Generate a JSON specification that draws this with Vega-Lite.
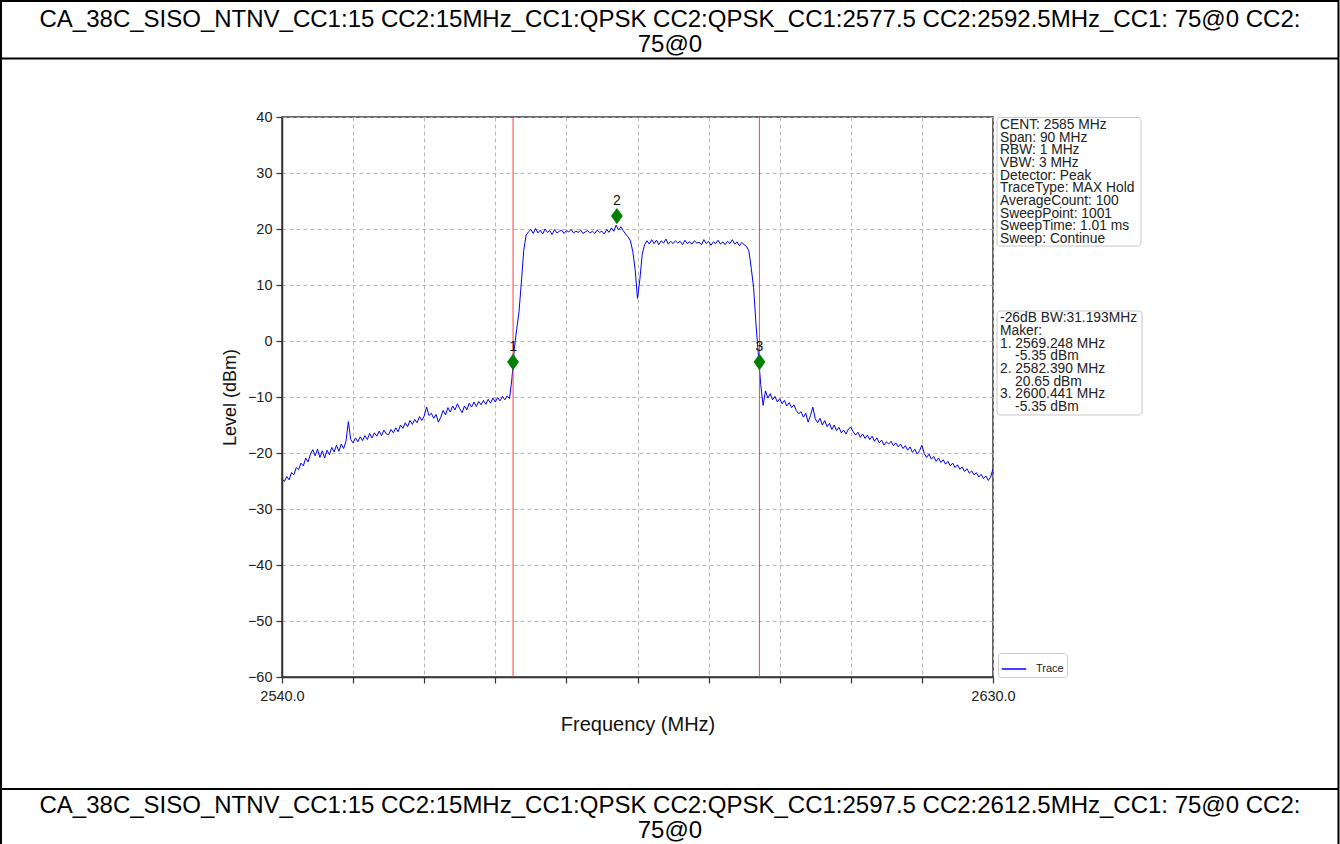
{
  "$schema": "https://vega.github.io/schema/vega-lite/v6.json",
  "width": 711,
  "height": 560,
  "autosize": {"type": "none"},
  "padding": {"left": 282, "top": 117, "right": 347, "bottom": 167},
  "background": "white",
  "config": {
    "font": "Liberation Sans",
    "view": {"stroke": "#333333", "strokeWidth": 1.5},
    "axis": {
      "domainColor": "#333333", "domainWidth": 1.5, "tickColor": "#333333", "tickWidth": 1.2, "tickSize": 6,
      "labelFont": "Liberation Sans", "labelFontSize": 14.5, "labelColor": "#222222",
      "titleFont": "Liberation Sans", "titleFontWeight": "normal", "titleColor": "#111111",
      "gridColor": "#b0b0b0", "gridDash": [4, 3], "gridWidth": 0.9
    }
  },
  "datasets": {
    "trace": [
      {"f":2540.0,"v":-24.6},{"f":2540.3,"v":-25.1},{"f":2540.6,"v":-24.2},{"f":2540.9,"v":-24.8},{"f":2541.2,"v":-23.5},{"f":2541.5,"v":-23.9},{"f":2541.8,"v":-22.6},{"f":2542.1,"v":-23.0},{"f":2542.4,"v":-21.8},{"f":2542.7,"v":-22.3},
      {"f":2543.0,"v":-20.9},{"f":2543.3,"v":-21.6},{"f":2543.6,"v":-20.2},{"f":2543.9,"v":-19.4},{"f":2544.2,"v":-20.5},{"f":2544.5,"v":-19.3},{"f":2544.8,"v":-20.8},{"f":2545.1,"v":-19.6},{"f":2545.4,"v":-20.9},{"f":2545.7,"v":-19.5},
      {"f":2546.0,"v":-20.3},{"f":2546.3,"v":-19.0},{"f":2546.6,"v":-19.8},{"f":2546.9,"v":-18.6},{"f":2547.2,"v":-19.7},{"f":2547.5,"v":-18.4},{"f":2547.8,"v":-19.2},{"f":2548.1,"v":-17.9},{"f":2548.4,"v":-14.4},{"f":2548.7,"v":-17.6},
      {"f":2549.0,"v":-18.2},{"f":2549.3,"v":-17.3},{"f":2549.6,"v":-18.0},{"f":2549.9,"v":-17.1},{"f":2550.2,"v":-17.8},{"f":2550.5,"v":-16.9},{"f":2550.8,"v":-17.6},{"f":2551.1,"v":-16.5},{"f":2551.4,"v":-17.3},{"f":2551.7,"v":-16.4},
      {"f":2552.0,"v":-17.0},{"f":2552.3,"v":-16.1},{"f":2552.6,"v":-16.9},{"f":2552.9,"v":-15.9},{"f":2553.2,"v":-16.6},{"f":2553.5,"v":-16.7},{"f":2553.8,"v":-15.8},{"f":2554.1,"v":-16.4},{"f":2554.4,"v":-15.5},{"f":2554.7,"v":-16.2},
      {"f":2555.0,"v":-15.0},{"f":2555.3,"v":-15.6},{"f":2555.6,"v":-14.6},{"f":2555.9,"v":-15.3},{"f":2556.2,"v":-14.2},{"f":2556.5,"v":-14.9},{"f":2556.8,"v":-14.0},{"f":2557.1,"v":-14.6},{"f":2557.4,"v":-13.5},{"f":2557.7,"v":-14.2},
      {"f":2558.0,"v":-13.4},{"f":2558.3,"v":-11.8},{"f":2558.6,"v":-13.3},{"f":2558.9,"v":-12.9},{"f":2559.2,"v":-13.8},{"f":2559.5,"v":-13.1},{"f":2559.8,"v":-14.5},{"f":2560.1,"v":-13.6},{"f":2560.4,"v":-12.4},{"f":2560.7,"v":-13.2},
      {"f":2561.0,"v":-11.9},{"f":2561.3,"v":-12.7},{"f":2561.6,"v":-11.6},{"f":2561.9,"v":-12.3},{"f":2562.2,"v":-11.2},{"f":2562.5,"v":-12.1},{"f":2562.8,"v":-12.8},{"f":2563.1,"v":-11.6},{"f":2563.4,"v":-12.3},{"f":2563.7,"v":-11.1},
      {"f":2564.0,"v":-11.8},{"f":2564.3,"v":-10.9},{"f":2564.6,"v":-11.7},{"f":2564.9,"v":-10.8},{"f":2565.2,"v":-11.4},{"f":2565.5,"v":-10.6},{"f":2565.8,"v":-11.3},{"f":2566.1,"v":-10.4},{"f":2566.4,"v":-11.1},{"f":2566.7,"v":-10.2},
      {"f":2567.0,"v":-10.9},{"f":2567.3,"v":-10.1},{"f":2567.6,"v":-10.7},{"f":2567.9,"v":-9.9},{"f":2568.2,"v":-10.5},{"f":2568.5,"v":-9.8},{"f":2568.8,"v":-10.3},{"f":2569.1,"v":-6.8},{"f":2569.4,"v":-1.5},{"f":2569.7,"v":2.0},
      {"f":2570.0,"v":5.2},{"f":2570.3,"v":10.5},{"f":2570.6,"v":16.2},{"f":2570.9,"v":18.9},{"f":2571.2,"v":19.5},{"f":2571.5,"v":19.9},{"f":2571.8,"v":19.2},{"f":2572.1,"v":20.1},{"f":2572.4,"v":19.3},{"f":2572.7,"v":19.8},
      {"f":2573.0,"v":19.1},{"f":2573.3,"v":20.0},{"f":2573.6,"v":19.4},{"f":2573.9,"v":19.7},{"f":2574.2,"v":19.0},{"f":2574.5,"v":19.9},{"f":2574.8,"v":19.3},{"f":2575.1,"v":19.6},{"f":2575.4,"v":19.8},{"f":2575.7,"v":19.2},
      {"f":2576.0,"v":19.7},{"f":2576.3,"v":19.5},{"f":2576.6,"v":19.9},{"f":2576.9,"v":19.3},{"f":2577.2,"v":19.6},{"f":2577.5,"v":19.4},{"f":2577.8,"v":19.8},{"f":2578.1,"v":19.2},{"f":2578.4,"v":19.5},{"f":2578.7,"v":19.7},
      {"f":2579.0,"v":19.3},{"f":2579.3,"v":19.6},{"f":2579.6,"v":19.2},{"f":2579.9,"v":19.8},{"f":2580.2,"v":19.4},{"f":2580.5,"v":19.6},{"f":2580.8,"v":19.1},{"f":2581.1,"v":19.9},{"f":2581.4,"v":19.4},{"f":2581.7,"v":20.2},
      {"f":2582.0,"v":19.6},{"f":2582.3,"v":20.7},{"f":2582.6,"v":19.8},{"f":2582.9,"v":20.4},{"f":2583.2,"v":19.7},{"f":2583.5,"v":19.1},{"f":2583.8,"v":18.6},{"f":2584.1,"v":17.9},{"f":2584.4,"v":16.0},{"f":2584.7,"v":12.8},
      {"f":2585.0,"v":7.6},{"f":2585.3,"v":11.0},{"f":2585.6,"v":15.5},{"f":2585.9,"v":17.2},{"f":2586.2,"v":17.9},{"f":2586.5,"v":17.3},{"f":2586.8,"v":18.1},{"f":2587.1,"v":17.4},{"f":2587.4,"v":18.0},{"f":2587.7,"v":17.2},
      {"f":2588.0,"v":17.9},{"f":2588.3,"v":17.5},{"f":2588.6,"v":18.2},{"f":2588.9,"v":17.3},{"f":2589.2,"v":17.8},{"f":2589.5,"v":17.4},{"f":2589.8,"v":17.9},{"f":2590.1,"v":17.5},{"f":2590.4,"v":17.8},{"f":2590.7,"v":17.2},
      {"f":2591.0,"v":18.0},{"f":2591.3,"v":17.4},{"f":2591.6,"v":17.7},{"f":2591.9,"v":17.3},{"f":2592.2,"v":17.9},{"f":2592.5,"v":17.5},{"f":2592.8,"v":17.6},{"f":2593.1,"v":17.2},{"f":2593.4,"v":18.1},{"f":2593.7,"v":17.4},
      {"f":2594.0,"v":17.8},{"f":2594.3,"v":17.1},{"f":2594.6,"v":17.7},{"f":2594.9,"v":17.4},{"f":2595.2,"v":18.0},{"f":2595.5,"v":17.3},{"f":2595.8,"v":17.7},{"f":2596.1,"v":17.2},{"f":2596.4,"v":17.8},{"f":2596.7,"v":17.4},
      {"f":2597.0,"v":18.1},{"f":2597.3,"v":17.3},{"f":2597.6,"v":17.7},{"f":2597.9,"v":17.0},{"f":2598.2,"v":17.6},{"f":2598.5,"v":17.2},{"f":2598.8,"v":16.9},{"f":2599.1,"v":16.1},{"f":2599.4,"v":13.0},{"f":2599.7,"v":9.5},
      {"f":2600.0,"v":3.0},{"f":2600.3,"v":-2.5},{"f":2600.6,"v":-7.8},{"f":2600.9,"v":-11.5},{"f":2601.2,"v":-8.9},{"f":2601.5,"v":-10.2},{"f":2601.8,"v":-9.4},{"f":2602.1,"v":-10.5},{"f":2602.4,"v":-9.9},{"f":2602.7,"v":-10.9},
      {"f":2603.0,"v":-10.3},{"f":2603.3,"v":-11.2},{"f":2603.6,"v":-10.6},{"f":2603.9,"v":-11.6},{"f":2604.2,"v":-11.0},{"f":2604.5,"v":-11.9},{"f":2604.8,"v":-11.4},{"f":2605.1,"v":-12.4},{"f":2605.4,"v":-13.0},{"f":2605.7,"v":-12.6},
      {"f":2606.0,"v":-13.6},{"f":2606.3,"v":-12.9},{"f":2606.6,"v":-14.5},{"f":2606.9,"v":-13.3},{"f":2607.2,"v":-11.8},{"f":2607.5,"v":-13.9},{"f":2607.8,"v":-14.6},{"f":2608.1,"v":-13.8},{"f":2608.4,"v":-15.0},{"f":2608.7,"v":-14.2},
      {"f":2609.0,"v":-15.3},{"f":2609.3,"v":-14.7},{"f":2609.6,"v":-15.8},{"f":2609.9,"v":-15.0},{"f":2610.2,"v":-16.0},{"f":2610.5,"v":-15.4},{"f":2610.8,"v":-16.4},{"f":2611.1,"v":-15.9},{"f":2611.4,"v":-16.6},{"f":2611.7,"v":-15.7},
      {"f":2612.0,"v":-15.4},{"f":2612.3,"v":-16.2},{"f":2612.6,"v":-16.8},{"f":2612.9,"v":-16.3},{"f":2613.2,"v":-17.2},{"f":2613.5,"v":-16.6},{"f":2613.8,"v":-17.4},{"f":2614.1,"v":-16.8},{"f":2614.4,"v":-17.6},{"f":2614.7,"v":-17.0},
      {"f":2615.0,"v":-17.9},{"f":2615.3,"v":-17.3},{"f":2615.6,"v":-18.2},{"f":2615.9,"v":-17.7},{"f":2616.2,"v":-18.6},{"f":2616.5,"v":-18.0},{"f":2616.8,"v":-18.4},{"f":2617.1,"v":-17.9},{"f":2617.4,"v":-18.7},{"f":2617.7,"v":-18.2},
      {"f":2618.0,"v":-18.9},{"f":2618.3,"v":-18.4},{"f":2618.6,"v":-19.2},{"f":2618.9,"v":-18.7},{"f":2619.2,"v":-19.5},{"f":2619.5,"v":-18.9},{"f":2619.8,"v":-19.9},{"f":2620.1,"v":-19.3},{"f":2620.4,"v":-20.2},{"f":2620.7,"v":-19.6},
      {"f":2621.0,"v":-18.6},{"f":2621.3,"v":-20.1},{"f":2621.6,"v":-20.8},{"f":2621.9,"v":-20.2},{"f":2622.2,"v":-21.1},{"f":2622.5,"v":-20.6},{"f":2622.8,"v":-21.5},{"f":2623.1,"v":-20.9},{"f":2623.4,"v":-21.7},{"f":2623.7,"v":-21.2},
      {"f":2624.0,"v":-22.0},{"f":2624.3,"v":-21.5},{"f":2624.6,"v":-22.3},{"f":2624.9,"v":-21.8},{"f":2625.2,"v":-22.6},{"f":2625.5,"v":-22.1},{"f":2625.8,"v":-22.9},{"f":2626.1,"v":-22.5},{"f":2626.4,"v":-23.3},{"f":2626.7,"v":-22.8},
      {"f":2627.0,"v":-23.6},{"f":2627.3,"v":-23.2},{"f":2627.6,"v":-23.9},{"f":2627.9,"v":-23.5},{"f":2628.2,"v":-24.3},{"f":2628.5,"v":-23.8},{"f":2628.8,"v":-24.6},{"f":2629.1,"v":-24.1},{"f":2629.4,"v":-24.9},{"f":2629.7,"v":-24.3},
      {"f":2630.0,"v":-22.8}
    ],
    "markers": [
      {"f": 2569.248, "v": -3.75, "n": "1"},
      {"f": 2582.39, "v": 22.3, "n": "2"},
      {"f": 2600.441, "v": -3.75, "n": "3"}
    ],
    "rules": [{"f": 2569.248}, {"f": 2600.441}]
  },
  "layer": [
    {
      "data": {"name": "trace"},
      "mark": {"type": "line", "strokeWidth": 1, "interpolate": "linear"},
      "encoding": {
        "x": {"field": "f", "type": "quantitative", "scale": {"domain": [2540, 2630], "nice": false, "zero": false},
          "axis": {"title": "Frequency (MHz)", "titleFontSize": 20, "values": [2540, 2549, 2558, 2567, 2576, 2585, 2594, 2603, 2612, 2621, 2630],
            "labelExpr": "datum.value == 2540 || datum.value == 2630 ? format(datum.value, '.1f') : ''",
            "grid": true, "labelPadding": 6, "titlePadding": 12, "labelFlush": false, "labelOverlap": false}},
        "y": {"field": "v", "type": "quantitative", "scale": {"domain": [-60, 40], "nice": false, "zero": false},
          "axis": {"title": "Level (dBm)", "titleFontSize": 18, "values": [-60, -50, -40, -30, -20, -10, 0, 10, 20, 30, 40],
            "grid": true, "labelPadding": 4, "titlePadding": 8, "labelFlush": false, "labelOverlap": false}},
        "color": {"datum": "Trace", "type": "nominal", "scale": {"range": ["#0000ff"]},
          "legend": {"orient": "none", "legendX": 716, "legendY": 536, "title": null, "fillColor": "white",
            "strokeColor": "#cccccc", "cornerRadius": 3, "padding": 3, "symbolType": "stroke", "symbolSize": 600,
            "symbolStrokeWidth": 1.5, "labelFontSize": 11, "labelFont": "Liberation Sans", "labelColor": "#222222", "labelOffset": 9}}
      }
    },
    {
      "data": {"name": "rules"},
      "mark": {"type": "rule", "color": "#ff3030", "strokeWidth": 1.1, "opacity": 0.85},
      "encoding": {
        "x": {"field": "f", "type": "quantitative"}
      }
    },
    {
      "data": {"name": "markers"},
      "mark": {"type": "point", "shape": "M0,-1L0.72,0L0,1L-0.72,0Z", "filled": true, "color": "#008000", "size": 270, "opacity": 1},
      "encoding": {
        "x": {"field": "f", "type": "quantitative"},
        "y": {"field": "v", "type": "quantitative"}
      }
    },
    {
      "data": {"name": "markers"},
      "mark": {"type": "text", "fontSize": 14, "color": "#111111", "dy": -15, "baseline": "middle", "align": "center"},
      "encoding": {
        "x": {"field": "f", "type": "quantitative"},
        "y": {"field": "v", "type": "quantitative"},
        "text": {"field": "n"}
      }
    },
    {
      "data": {"values": [{}]},
      "mark": {"type": "rect", "fill": "white", "stroke": "#c8c8c8", "strokeWidth": 1, "cornerRadius": 3},
      "encoding": {
        "x": {"datum": 2630.51, "type": "quantitative"},
        "x2": {"datum": 2648.73},
        "y": {"datum": 39.9, "type": "quantitative"},
        "y2": {"datum": 16.96}
      }
    },
    {
      "data": {"values": [{}]},
      "mark": {"type": "rect", "fill": "white", "stroke": "#c8c8c8", "strokeWidth": 1, "cornerRadius": 3},
      "encoding": {
        "x": {"datum": 2630.51, "type": "quantitative"},
        "x2": {"datum": 2648.86},
        "y": {"datum": 5.36, "type": "quantitative"},
        "y2": {"datum": -13.21}
      }
    },
    {
      "data": {"values": [{}]},
      "mark": {"type": "text", "align": "left", "baseline": "top", "fontSize": 13.8, "lineHeight": 12.7, "color": "#222222",
        "lineBreak": "\n",
        "text": "CENT: 2585 MHz\nSpan: 90 MHz\nRBW: 1 MHz\nVBW: 3 MHz\nDetector: Peak\nTraceType: MAX Hold\nAverageCount: 100\nSweepPoint: 1001\nSweepTime: 1.01 ms\nSweep: Continue"},
      "encoding": {
        "x": {"datum": 2630.89, "type": "quantitative"},
        "y": {"datum": 39.85, "type": "quantitative"}
      }
    },
    {
      "data": {"values": [{}]},
      "mark": {"type": "text", "align": "left", "baseline": "top", "fontSize": 13.8, "lineHeight": 12.6, "color": "#222222",
        "lineBreak": "\n",
        "text": "-26dB BW:31.193MHz\nMaker:\n1. 2569.248 MHz"},
      "encoding": {
        "x": {"datum": 2630.89, "type": "quantitative"},
        "y": {"datum": 5.3, "type": "quantitative"}
      }
    },
    {
      "data": {"values": [{}]},
      "mark": {"type": "text", "align": "left", "baseline": "top", "fontSize": 13.8, "lineHeight": 25.2, "color": "#222222",
        "lineBreak": "\n",
        "text": "2. 2582.390 MHz\n3. 2600.441 MHz"},
      "encoding": {
        "x": {"datum": 2630.89, "type": "quantitative"},
        "y": {"datum": -3.75, "type": "quantitative"}
      }
    },
    {
      "data": {"values": [{}]},
      "mark": {"type": "text", "align": "left", "baseline": "top", "fontSize": 13.8, "lineHeight": 25.2, "color": "#222222",
        "lineBreak": "\n", "dx": 15,
        "text": "-5.35 dBm\n20.65 dBm\n-5.35 dBm"},
      "encoding": {
        "x": {"datum": 2630.89, "type": "quantitative"},
        "y": {"datum": -1.5, "type": "quantitative"}
      }
    },
    {
      "data": {"values": [{}]},
      "mark": {"type": "text", "align": "center", "baseline": "top", "fontSize": 24, "lineHeight": 25, "color": "#000000",
        "lineBreak": "\n",
        "text": "CA_38C_SISO_NTNV_CC1:15 CC2:15MHz_CC1:QPSK CC2:QPSK_CC1:2577.5 CC2:2592.5MHz_CC1: 75@0 CC2:\n75@0"},
      "encoding": {
        "x": {"datum": 2589.11, "type": "quantitative"},
        "y": {"datum": 59.46, "type": "quantitative"}
      }
    },
    {
      "data": {"values": [{}]},
      "mark": {"type": "text", "align": "center", "baseline": "top", "fontSize": 24, "lineHeight": 25, "color": "#000000",
        "lineBreak": "\n",
        "text": "CA_38C_SISO_NTNV_CC1:15 CC2:15MHz_CC1:QPSK CC2:QPSK_CC1:2597.5 CC2:2612.5MHz_CC1: 75@0 CC2:\n75@0"},
      "encoding": {
        "x": {"datum": 2589.11, "type": "quantitative"},
        "y": {"datum": -80.89, "type": "quantitative"}
      }
    },
    {
      "data": {"values": [{}]},
      "mark": {"type": "rule", "color": "#000000", "strokeWidth": 2},
      "encoding": {
        "x": {"datum": 2504.43, "type": "quantitative"},
        "x2": {"datum": 2673.73},
        "y": {"datum": 50.45, "type": "quantitative"}
      }
    },
    {
      "data": {"values": [{}]},
      "mark": {"type": "rule", "color": "#000000", "strokeWidth": 2},
      "encoding": {
        "x": {"datum": 2504.43, "type": "quantitative"},
        "x2": {"datum": 2673.73},
        "y": {"datum": -80.0, "type": "quantitative"}
      }
    },
    {
      "data": {"values": [{}]},
      "mark": {"type": "rect", "filled": false, "stroke": "#000000", "strokeWidth": 2},
      "encoding": {
        "x": {"datum": 2504.43, "type": "quantitative"},
        "x2": {"datum": 2673.73},
        "y": {"datum": 60.71, "type": "quantitative"},
        "y2": {"datum": -92.0}
      }
    }
  ]
}
